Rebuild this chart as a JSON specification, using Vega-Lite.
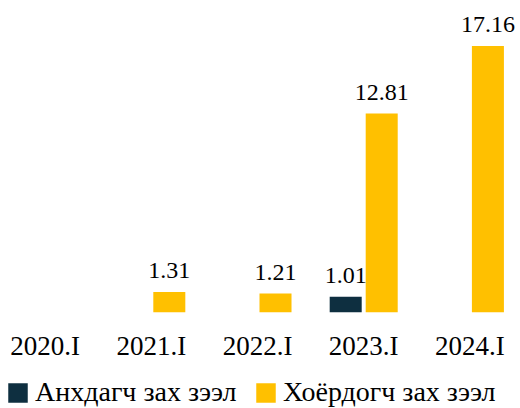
{
  "$schema": "https://vega.github.io/schema/vega-lite/v6.json",
  "width": 531,
  "height": 285,
  "autosize": {"type": "none"},
  "padding": {"left": -8, "top": 33, "right": 0, "bottom": 90},
  "background": "white",
  "config": {
    "view": {"stroke": null},
    "font": "Liberation Serif"
  },
  "data": {
    "values": [
      {"period": "2021.I", "series": "Хоёрдогч зах зээл", "value": 1.31},
      {"period": "2022.I", "series": "Хоёрдогч зах зээл", "value": 1.21},
      {"period": "2023.I", "series": "Анхдагч зах зээл", "value": 1.01},
      {"period": "2023.I", "series": "Хоёрдогч зах зээл", "value": 12.81},
      {"period": "2024.I", "series": "Хоёрдогч зах зээл", "value": 17.16}
    ]
  },
  "encoding": {
    "x": {
      "field": "period",
      "type": "nominal",
      "scale": {"domain": ["2020.I", "2021.I", "2022.I", "2023.I", "2024.I"], "paddingInner": 0, "paddingOuter": 0},
      "axis": {"title": null, "domain": false, "ticks": false, "labelAngle": 0, "labelFontSize": 27, "labelColor": "#000000", "labelPadding": 15, "labelFont": "Liberation Serif"}
    },
    "xOffset": {
      "field": "series",
      "type": "nominal",
      "scale": {"domain": ["Анхдагч зах зээл", "Хоёрдогч зах зээл"], "paddingInner": 0.111, "paddingOuter": 0.53}
    },
    "y": {
      "field": "value",
      "type": "quantitative",
      "scale": {"domain": [-0.365, 18], "nice": false, "zero": false},
      "axis": null
    }
  },
  "layer": [
    {
      "mark": {"type": "bar"},
      "encoding": {
        "color": {
          "field": "series",
          "type": "nominal",
          "scale": {"domain": ["Анхдагч зах зээл", "Хоёрдогч зах зээл"], "range": ["#0e2f40", "#ffc000"]},
          "legend": {
            "title": null,
            "orient": "none",
            "direction": "horizontal",
            "legendX": 12,
            "legendY": 346,
            "symbolType": "square",
            "symbolSize": 380,
            "symbolStrokeWidth": 0,
            "labelFontSize": 28,
            "labelFont": "Liberation Serif",
            "labelColor": "#000000",
            "labelOffset": 3,
            "columnPadding": 15,
            "labelLimit": 400
          }
        }
      }
    },
    {
      "mark": {"type": "text", "baseline": "alphabetic", "dy": -14, "fontSize": 24, "font": "Liberation Serif", "color": "#000000"},
      "encoding": {
        "text": {"field": "value", "type": "quantitative", "format": ".2f"}
      }
    }
  ]
}
